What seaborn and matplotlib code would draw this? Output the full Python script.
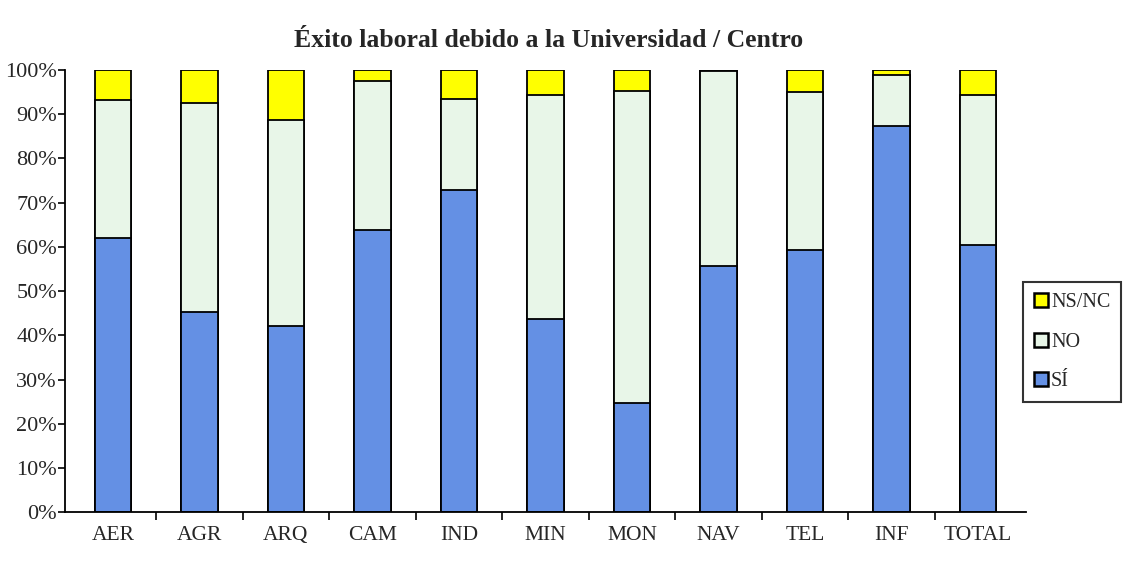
import matplotlib
matplotlib.use("Agg")
import matplotlib.pyplot as plt
import seaborn as sns
import numpy as np
import pandas as pd
from matplotlib.patches import Patch

categories = ["AER", "AGR", "ARQ", "CAM", "IND", "MIN", "MON", "NAV", "TEL", "INF", "TOTAL"]
si = [62.1, 45.3, 42.2, 63.9, 72.9, 43.8, 24.8, 55.7, 59.3, 87.4, 60.5]
no = [31.2, 47.2, 46.5, 33.5, 20.6, 50.5, 70.4, 44.1, 35.6, 11.5, 33.8]
nsnc = [6.7, 7.5, 11.3, 2.6, 6.5, 5.7, 4.8, 0.2, 5.1, 1.1, 5.7]
y_ticks = [0, 10, 20, 30, 40, 50, 60, 70, 80, 90, 100]

sns.set_theme(style="white")
plt.rcParams["font.family"] = ["Liberation Serif", "DejaVu Serif"]

df = pd.DataFrame({"cat": categories, "si": si, "no": no, "nsnc": nsnc})
df["top_no"] = df["si"] + df["no"]
df["top_ns"] = df["top_no"] + df["nsnc"]

c_si = "#6490e4"
c_no = "#e8f6e8"
c_ns = "#ffff00"

fig = plt.figure(figsize=(11.26, 5.73), dpi=100)
ax = fig.add_axes([0.058, 0.106, 0.853, 0.772])

kw = dict(edgecolor="black", linewidth=1.3, width=0.42, saturation=1)
sns.barplot(data=df, x="cat", y="top_ns", color=c_ns, ax=ax, **kw)
sns.barplot(data=df, x="cat", y="top_no", color=c_no, ax=ax, **kw)
sns.barplot(data=df, x="cat", y="si", color=c_si, ax=ax, **kw)

ax.set_xlim(-0.55, len(categories) - 0.45)
ax.set_ylim(0, 100)
ax.set_yticks(y_ticks)
ax.set_yticklabels([f"{v}%" for v in y_ticks], fontsize=16)
ax.set_xticks(range(len(categories)))
ax.set_xticklabels(categories, fontsize=15.5)
ax.set_xticks(np.arange(0.5, len(categories) - 0.5, 1), minor=True)
ax.tick_params(axis="x", which="major", length=0, pad=10)
ax.tick_params(axis="x", which="minor", length=6, width=1.2, color="black", direction="out", bottom=True)
ax.tick_params(axis="y", length=5, width=1.2, color="black", direction="out", left=True, pad=1)
ax.set_xlabel("")
ax.set_ylabel("")
for s in ["top", "right"]:
    ax.spines[s].set_visible(False)
for s in ["left", "bottom"]:
    ax.spines[s].set_color("black")
    ax.spines[s].set_linewidth(1.3)

fig.text(0.487, 0.93, "Éxito laboral debido a la Universidad / Centro", fontsize=18.5,
         fontweight="bold", ha="center", va="center")

handles = [Patch(facecolor=c_ns, edgecolor="black", linewidth=1.8, label="NS/NC"),
           Patch(facecolor=c_no, edgecolor="black", linewidth=1.8, label="NO"),
           Patch(facecolor=c_si, edgecolor="black", linewidth=1.8, label="SÍ")]
leg = fig.legend(handles=handles, loc="center right", bbox_to_anchor=(0.996, 0.403),
                 frameon=True, fancybox=False, fontsize=14.5, handlelength=0.7, handleheight=0.7,
                 handletextpad=0.15, labelspacing=1.0, borderpad=0.55, borderaxespad=0.0)
leg.get_frame().set_edgecolor("black")
leg.get_frame().set_linewidth(1.5)

fig.savefig("out.png", dpi=100)
